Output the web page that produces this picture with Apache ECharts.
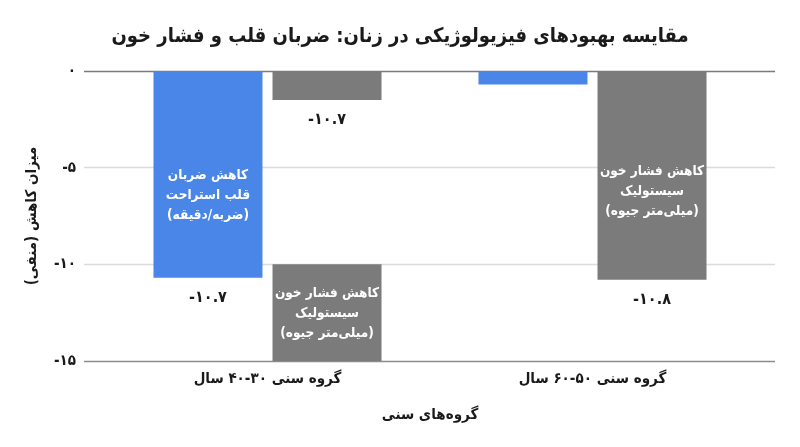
<!DOCTYPE html>
<html><head><meta charset="utf-8">
<script src="https://cdn.jsdelivr.net/npm/echarts@6/dist/echarts.min.js"></script>
<style>html,body{margin:0;padding:0;background:#fff}#c{width:800px;height:447px}</style>
</head><body><div id="c"></div>
<script>
const titleText = 'مقایسه بهبودهای فیزیولوژیکی در زنان: ضربان قلب و فشار خون';
const categories = ['گروه سنی ۳۰-۴۰ سال', 'گروه سنی ۵۰-۶۰ سال'];
const xAxisName = 'گروه‌های سنی';
const yAxisName = 'میزان کاهش (منفی)';
const seriesNames = ['کاهش ضربان قلب استراحت (ضربه/دقیقه)', 'کاهش فشار خون سیستولیک (میلی‌متر جیوه)'];
const heartRate = [-10.7, -0.7];
const bloodPressure = [-1.5, -10.8];
const heartRateLabels = ['-۱۰.۷', ''];
const bloodPressureLabels = ['-۱۰.۷', '-۱۰.۸'];
const heartRateInner = ['کاهش ضربان\nقلب استراحت\n(ضربه/دقیقه)', ''];
const bloodPressureInner = ['', 'کاهش فشار خون\nسیستولیک\n(میلی‌متر جیوه)'];
const bpBoxTop = [-10, null];
const bpBoxBottom = [-15, null];
const bpBoxText = 'کاهش فشار خون\nسیستولیک\n(میلی‌متر جیوه)';
const yMin = -15, yMax = 0, yStep = 5;
const yTickLabels = {'0': '۰', '-5': '-۵', '-10': '-۱۰', '-15': '-۱۵'};

const FONT = '"DejaVu Sans Condensed", "DejaVu Sans", sans-serif';
const BLUE = '#4a86e8', GRAY = '#7b7b7b', TXT = '#1a1a1a';

const spacer = bpBoxTop.map((t, i) => t == null ? '-' : +(t - bloodPressure[i]).toFixed(2));
const box = bpBoxTop.map((t, i) => t == null ? '-' : bpBoxBottom[i] - t);

const barCommon = { barWidth: 109, barGap: '9.2%' };
const valueLabel = arr => ({
  show: true, position: 'bottom', distance: 12,
  formatter: p => arr[p.dataIndex], fontSize: 16, fontWeight: 'bold', color: TXT, fontFamily: FONT
});
const innerLabel = (arr, dy) => ({
  show: true, position: 'inside', offset: [0, dy],
  formatter: p => arr[p.dataIndex], fontSize: 13.5, fontWeight: 'bold', color: '#fff',
  lineHeight: 20, align: 'center', fontFamily: FONT
});

const chart = echarts.init(document.getElementById('c'), null, { renderer: 'canvas' });
chart.setOption({
  backgroundColor: '#fff',
  animation: false,
  textStyle: { fontFamily: FONT },
  title: {
    text: titleText, left: 'center', top: 22,
    textStyle: { fontSize: 20, fontWeight: 'bold', color: TXT, fontFamily: FONT }
  },
  grid: [
    { left: 84, right: 25, top: 71, bottom: 86 },
    { left: 105, right: 45, top: 71, bottom: 86 }
  ],
  xAxis: [
    { gridIndex: 0, type: 'category', data: categories, show: false },
    {
      gridIndex: 1, type: 'category', data: categories,
      axisLine: { show: false }, axisTick: { show: false },
      axisLabel: { fontSize: 15, fontWeight: 'bold', color: TXT, margin: 11, fontFamily: FONT },
      name: xAxisName, nameLocation: 'middle', nameGap: 47,
      nameTextStyle: { fontSize: 15, fontWeight: 'bold', color: TXT, fontFamily: FONT }
    },
    { gridIndex: 1, type: 'category', data: categories, show: false }
  ],
  yAxis: [
    {
      gridIndex: 0, type: 'value', min: yMin, max: yMax, interval: yStep,
      axisLine: { show: false }, axisTick: { show: false },
      axisLabel: {
        formatter: v => yTickLabels[String(v)] ?? String(v),
        fontSize: 15, fontWeight: 'bold', color: TXT, margin: 8, fontFamily: FONT
      },
      splitLine: { lineStyle: { color: ['#8c8c8c', '#dcdcdc', '#dcdcdc', '#7a7a7a'], width: 1.3 } },
      name: yAxisName, nameLocation: 'middle', nameGap: 44, nameRotate: 90,
      nameTextStyle: { fontSize: 15, fontWeight: 'bold', color: TXT, fontFamily: FONT }
    },
    { gridIndex: 1, type: 'value', min: yMin, max: yMax, interval: yStep, show: false }
  ],
  series: [
    Object.assign({
      name: seriesNames[0], type: 'bar', xAxisIndex: 1, yAxisIndex: 1,
      data: heartRate, itemStyle: { color: BLUE }, label: valueLabel(heartRateLabels)
    }, barCommon),
    Object.assign({
      name: seriesNames[1], type: 'bar', xAxisIndex: 1, yAxisIndex: 1, stack: 'bp',
      data: bloodPressure, itemStyle: { color: GRAY }, label: valueLabel(bloodPressureLabels)
    }, barCommon),
    Object.assign({
      name: 'spacer', type: 'bar', xAxisIndex: 1, yAxisIndex: 1, stack: 'bp', silent: true,
      data: spacer, itemStyle: { color: 'rgba(0,0,0,0)' }
    }, barCommon),
    Object.assign({
      name: seriesNames[1] + ' box', type: 'bar', xAxisIndex: 1, yAxisIndex: 1, stack: 'bp',
      data: box, itemStyle: { color: GRAY }, label: innerLabel([bpBoxText, ''], 1)
    }, barCommon),
    Object.assign({
      name: 'hrInner', type: 'bar', xAxisIndex: 2, yAxisIndex: 1, silent: true, z: 5,
      data: heartRate, itemStyle: { color: 'rgba(0,0,0,0)' }, label: innerLabel(heartRateInner, 21)
    }, barCommon),
    Object.assign({
      name: 'bpInner', type: 'bar', xAxisIndex: 2, yAxisIndex: 1, silent: true, z: 5,
      data: bloodPressure, itemStyle: { color: 'rgba(0,0,0,0)' }, label: innerLabel(bloodPressureInner, 16)
    }, barCommon)
  ]
});
</script></body></html>
